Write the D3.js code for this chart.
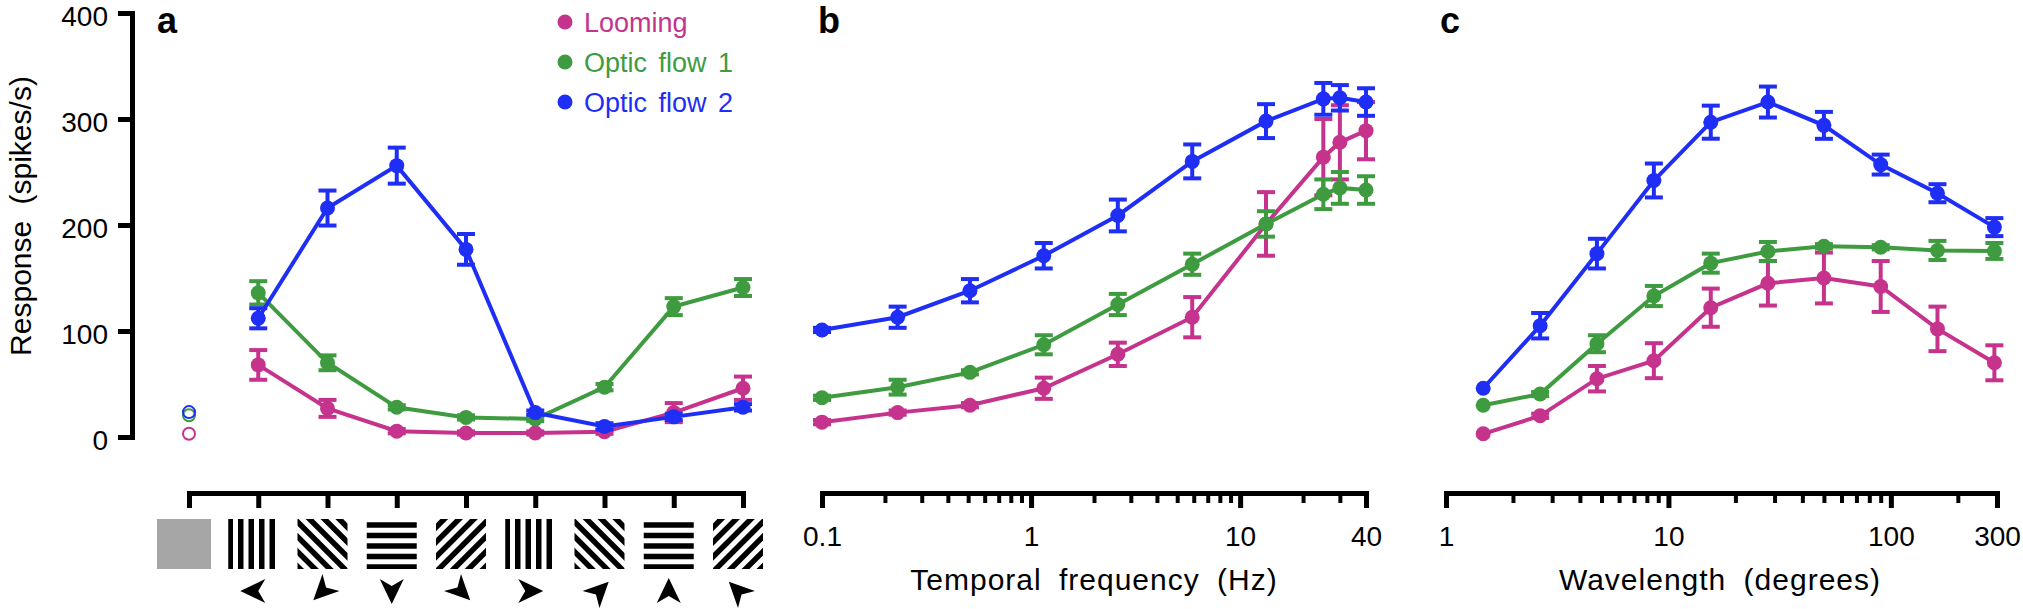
<!DOCTYPE html>
<html>
<head>
<meta charset="utf-8">
<script src="https://cdn.jsdelivr.net/npm/d3@7"></script>
<style>
body { margin: 0; background: #fff; }
text { font-family: "Liberation Sans", Arial, sans-serif; }
</style>
</head>
<body>
<script>
var seriesNames = ["Looming", "Optic flow 1", "Optic flow 2"];
var seriesColors = ["#c5338d", "#3f9b3f", "#1f2ef5"];
var yTicks = [0, 100, 200, 300, 400];

// panel a: direction of drifting grating
var dirCategories = ["blank", "left", "downLeft", "down", "downRight", "right", "upRight", "up", "upLeft"];
var dirStripes = [null, 90, 45, 0, -45, 90, 45, 0, -45];
var dirArrows = [null, 180, 135, 90, 45, 0, -45, -90, -135];
var blankValues = [3, 20.5, 23.5];
var dirLooming = [68, 27, 5.5, 3.8, 3.8, 5, 23, 46];
var dirLoomingErr = [14, 8, 2, 1.5, 1.5, 2, 9, 11];
var dirFlow1 = [136, 70, 28, 18.5, 17, 47, 123, 141];
var dirFlow1Err = [11, 7, 2, 2, 2, 3, 8, 8];
var dirFlow2 = [112, 216, 256, 177, 23, 10, 19, 28];
var dirFlow2Err = [9.5, 16.5, 17, 14.5, 2, 3, 3, 3];

// panel b: temporal frequency (Hz)
var tfValues = [0.1, 0.23, 0.51, 1.15, 2.6, 5.9, 13.3, 25, 30, 40];
var tfLabels = [0.1, 1, 10, 40];
var tfLooming = [14, 23, 30, 46, 78, 113, 201, 264, 278, 289];
var tfLoomingErr = [2, 2, 2, 10, 11, 19, 30, 36, 35, 27];
var tfFlow1 = [37, 47, 61, 87, 125, 163, 201, 229, 235, 233];
var tfFlow1Err = [2, 7, 2, 9, 10, 10, 12, 14, 15, 13];
var tfFlow2 = [101, 113, 138, 171, 209, 260, 298, 319, 320, 316];
var tfFlow2Err = [2, 10, 11, 12, 15, 16, 16, 15, 12, 13];

// panel c: wavelength (degrees)
var wlValues = [1.47, 2.65, 4.77, 8.6, 15.5, 28, 50, 90, 162, 292];
var wlLabels = [1, 10, 100, 300];
var wlLooming = [3, 20, 55, 72, 122, 145, 150, 142, 102, 70];
var wlLoomingErr = [0, 2, 12, 16.5, 18, 21, 24, 24, 21, 16.5];
var wlFlow1 = [30, 40.5, 88, 133, 164, 175, 180, 179, 176, 175.5];
var wlFlow1Err = [0, 2, 8, 9.5, 9, 9, 2, 2, 9, 7.5];
var wlFlow2 = [46, 105, 173, 242, 297, 316, 294, 257, 230, 198];
var wlFlow2Err = [0, 12, 14, 16, 15.6, 14.6, 12.7, 9.4, 8.5, 8.5];

var svg = d3.select("body").append("svg").attr("width", 2023).attr("height", 609);
svg.append("rect").attr("width", 2023).attr("height", 609).attr("fill", "#fff");

var y = d3.scaleLinear().domain([0, 400]).range([437, 13]);

function styleAxis(g, width, size){
	g.attr("font-family", null).attr("font-size", null);
	g.select(".domain").attr("stroke", "#000").attr("stroke-width", width).attr("stroke-linecap", "square");
	g.selectAll(".tick line").attr("stroke", "#000").attr("stroke-width", width);
	g.selectAll(".tick text").attr("font-size", size).attr("fill", "#000");
}

function drawSeries(g, xs, ys, errs, xPos, color){
	var pts = xs.map(function(d, i){ return {x: xPos(d), y: y(ys[i]), lo: y(ys[i] - errs[i]), hi: y(ys[i] + errs[i]), e: errs[i]}; });
	g.append("path").datum(pts)
		.attr("fill", "none").attr("stroke", color).attr("stroke-width", 4)
		.attr("d", d3.line().x(function(d){ return d.x; }).y(function(d){ return d.y; }));
	var bars = g.selectAll(null).data(pts.filter(function(d){ return d.e > 0; })).enter().append("g");
	bars.append("line").attr("x1", function(d){ return d.x; }).attr("x2", function(d){ return d.x; })
		.attr("y1", function(d){ return d.lo; }).attr("y2", function(d){ return d.hi; })
		.attr("stroke", color).attr("stroke-width", 4);
	[ "lo", "hi" ].forEach(function(k){
		bars.append("line").attr("x1", function(d){ return d.x - 9; }).attr("x2", function(d){ return d.x + 9; })
			.attr("y1", function(d){ return d[k]; }).attr("y2", function(d){ return d[k]; })
			.attr("stroke", color).attr("stroke-width", 4);
	});
	g.selectAll(null).data(pts).enter().append("circle")
		.attr("cx", function(d){ return d.x; }).attr("cy", function(d){ return d.y; })
		.attr("r", 7.5).attr("fill", color);
}

function panelLabel(txt, x){
	svg.append("text").attr("x", x).attr("y", 33).attr("font-size", 36).attr("font-weight", "bold").text(txt);
}

function logAxis(x, majors, minors, y0){
	var gMinor = svg.append("g").attr("transform", "translate(0," + y0 + ")")
		.call(d3.axisBottom(x).tickValues(minors).tickSize(10).tickSizeOuter(0).tickFormat(""));
	styleAxis(gMinor, 4, 28);
	var gMajor = svg.append("g").attr("transform", "translate(0," + y0 + ")")
		.call(d3.axisBottom(x).tickValues(majors).tickSize(15).tickSizeOuter(0).tickPadding(18)
			.tickFormat(function(d){ return String(d); }));
	styleAxis(gMajor, 5, 28);
}

function xTitle(txt, cx){
	svg.append("text").attr("x", cx).attr("y", 590).attr("text-anchor", "middle")
		.attr("font-size", 30).attr("letter-spacing", 1).attr("word-spacing", 8).text(txt);
}

// ---------- panel a ----------
function drawPanelA(){
	var x = d3.scalePoint().domain(dirCategories).range([189, 743]);

	var gy = svg.append("g").attr("transform", "translate(132,0)")
		.call(d3.axisLeft(y).tickValues(yTicks).tickSize(14).tickSizeOuter(0).tickPadding(10));
	styleAxis(gy, 5, 28);
	gy.selectAll(".tick text").attr("y", 4);

	svg.append("text").attr("transform", "translate(31,216) rotate(-90)").attr("text-anchor", "middle")
		.attr("font-size", 30).attr("word-spacing", 8).text("Response (spikes/s)");

	var gx = svg.append("g").attr("transform", "translate(0,493)")
		.call(d3.axisBottom(x).tickSize(15).tickSizeOuter(0).tickFormat(""));
	styleAxis(gx, 5, 28);

	var sets = [[dirLooming, dirLoomingErr], [dirFlow1, dirFlow1Err], [dirFlow2, dirFlow2Err]];
	sets.forEach(function(s, i){
		drawSeries(svg.append("g"), dirCategories.slice(1), s[0], s[1], x, seriesColors[i]);
	});
	svg.selectAll(null).data(blankValues).enter().append("circle")
		.attr("cx", x("blank")).attr("cy", function(d){ return y(d); }).attr("r", 6)
		.attr("fill", "none").attr("stroke", function(d, i){ return seriesColors[i]; }).attr("stroke-width", 2);

	// stimulus icons
	var defs = svg.append("defs");
	dirCategories.forEach(function(c, i){
		var cx = x(c) - 5, cy = 544;
		if (dirStripes[i] === null){
			svg.append("rect").attr("x", cx - 27).attr("y", cy - 25).attr("width", 54).attr("height", 50).attr("fill", "#a6a6a6");
			return;
		}
		defs.append("clipPath").attr("id", "clip" + i).append("rect")
			.attr("x", cx - 25).attr("y", cy - 25).attr("width", 50).attr("height", 50);
		var g = svg.append("g").attr("clip-path", "url(#clip" + i + ")");
		g.append("rect").attr("x", cx - 25).attr("y", cy - 25).attr("width", 50).attr("height", 50).attr("fill", "#fff");
		var sg = g.append("g").attr("transform", "translate(" + cx + "," + cy + ") rotate(" + dirStripes[i] + ")");
		d3.range(-4, 5).forEach(function(k){
			sg.append("line").attr("x1", -40).attr("x2", 40).attr("y1", k * 10.5 + 2).attr("y2", k * 10.5 + 2)
				.attr("stroke", "#000").attr("stroke-width", 5.5);
		});
	});

	// direction arrowheads
	svg.selectAll(null).data(dirArrows.slice(1)).enter().append("path")
		.attr("transform", function(d, i){ return "translate(" + (x(dirCategories[i + 1]) - 5) + ",591) rotate(" + d + ")"; })
		.attr("d", "M13,0 L-12,-12 L-5,0 L-12,12 Z").attr("fill", "#000");

	panelLabel("a", 157);

	// legend
	var lg = svg.selectAll(null).data(seriesNames).enter().append("g")
		.attr("transform", function(d, i){ return "translate(565," + (22 + i * 40) + ")"; });
	lg.append("circle").attr("r", 7.5).attr("fill", function(d, i){ return seriesColors[i]; });
	lg.append("text").attr("x", 19).attr("y", 10).attr("font-size", 27).attr("word-spacing", 4)
		.attr("fill", function(d, i){ return seriesColors[i]; }).text(function(d){ return d; });
}

// ---------- panel b ----------
function drawPanelB(){
	var x = d3.scaleLog().domain([0.1, 40]).range([822, 1366]);
	var minors = [0.2, 0.3, 0.4, 0.5, 0.6, 0.7, 0.8, 0.9, 2, 3, 4, 5, 6, 7, 8, 9, 20, 30];
	logAxis(x, tfLabels, minors, 493);
	xTitle("Temporal frequency (Hz)", 1094);
	var sets = [[tfLooming, tfLoomingErr], [tfFlow1, tfFlow1Err], [tfFlow2, tfFlow2Err]];
	sets.forEach(function(s, i){
		drawSeries(svg.append("g"), tfValues, s[0], s[1], x, seriesColors[i]);
	});
	panelLabel("b", 818);
}

// ---------- panel c ----------
function drawPanelC(){
	var x = d3.scaleLog().domain([1, 300]).range([1446, 1997]);
	var minors = [2, 3, 4, 5, 6, 7, 8, 9, 20, 30, 40, 50, 60, 70, 80, 90, 200];
	logAxis(x, wlLabels, minors, 493);
	xTitle("Wavelength (degrees)", 1720);
	var sets = [[wlLooming, wlLoomingErr], [wlFlow1, wlFlow1Err], [wlFlow2, wlFlow2Err]];
	sets.forEach(function(s, i){
		drawSeries(svg.append("g"), wlValues, s[0], s[1], x, seriesColors[i]);
	});
	panelLabel("c", 1440);
}

drawPanelA();
drawPanelB();
drawPanelC();
</script>
</body>
</html>
